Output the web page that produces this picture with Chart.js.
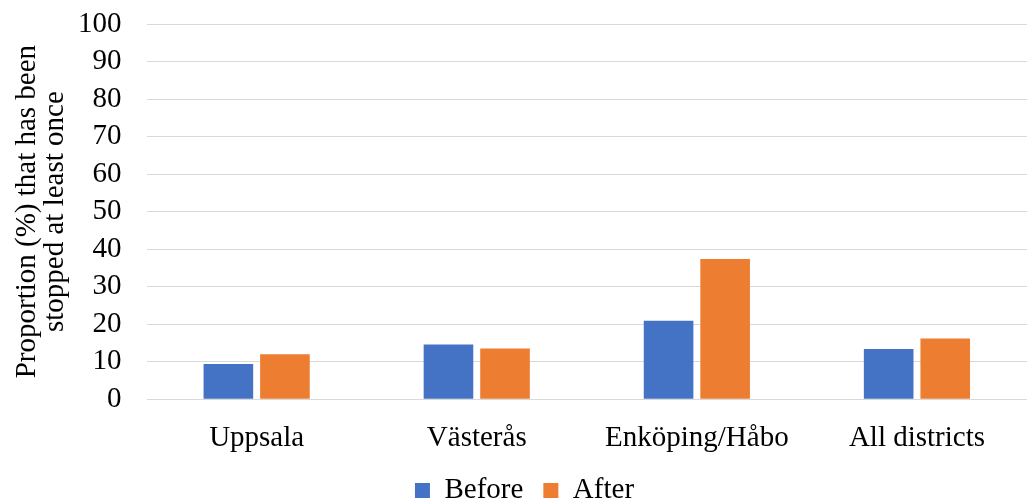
<!DOCTYPE html>
<html>
<head>
<meta charset="utf-8">
<script src="https://cdn.jsdelivr.net/npm/chart.js@4"></script>
<style>
  html, body { margin: 0; padding: 0; background: #fff; }
  #wrap { width: 1027px; height: 501px; position: relative; }
</style>
</head>
<body>
<div id="wrap"><canvas id="c"></canvas></div>
<script>
const districts = ["Uppsala", "Västerås", "Enköping/Håbo", "All districts"];
const before = [9.4, 14.6, 20.9, 13.4];
const after = [12.0, 13.5, 37.4, 16.2];
const yTicks = [0, 10, 20, 30, 40, 50, 60, 70, 80, 90, 100];

const font = { family: "'Liberation Serif', 'Times New Roman', serif", size: 29 };

new Chart(document.getElementById("c"), {
  type: "bar",
  data: {
    labels: districts,
    datasets: [
      { label: "Before", data: before, backgroundColor: "#4472c4", categoryPercentage: 0.514, barPercentage: 0.877 },
      { label: "After", data: after, backgroundColor: "#ed7d31", categoryPercentage: 0.514, barPercentage: 0.877 },
    ],
  },
  options: {
    responsive: true,
    maintainAspectRatio: false,
    animation: false,
    layout: { padding: { top: 0, right: -8, left: 14, bottom: -14 } },
    plugins: {
      legend: {
        position: "bottom",
        labels: { font, color: "#000", boxWidth: 15, boxHeight: 15, padding: 20 },
      },
      tooltip: { enabled: false },
    },
    scales: {
      x: {
        grid: { display: false },
        border: { display: false },
        ticks: { font, color: "#000", padding: 14, maxRotation: 0 },
        // pull the legend up closer to the category labels
        afterFit: (axis) => { axis.height -= 14; },
      },
      y: {
        min: 0,
        max: 100,
        afterBuildTicks: (axis) => { axis.ticks = yTicks.map(v => ({ value: v })); },
        afterFit: (axis) => {
          axis.width -= 24;
          axis.paddingTop = 24;
          axis.paddingBottom = 0;
        },
        grid: { color: "#d9d9d9", lineWidth: 1, drawTicks: false },
        border: { display: false },
        ticks: { font, color: "#000", padding: 25, autoSkip: false },
        title: {
          display: true,
          text: ["Proportion (%) that has been", "stopped at least once"],
          font: { ...font, lineHeight: 0.95 },
          color: "#000",
          padding: { top: 0, bottom: 8 },
        },
      },
    },
  },
});
</script>
</body>
</html>
